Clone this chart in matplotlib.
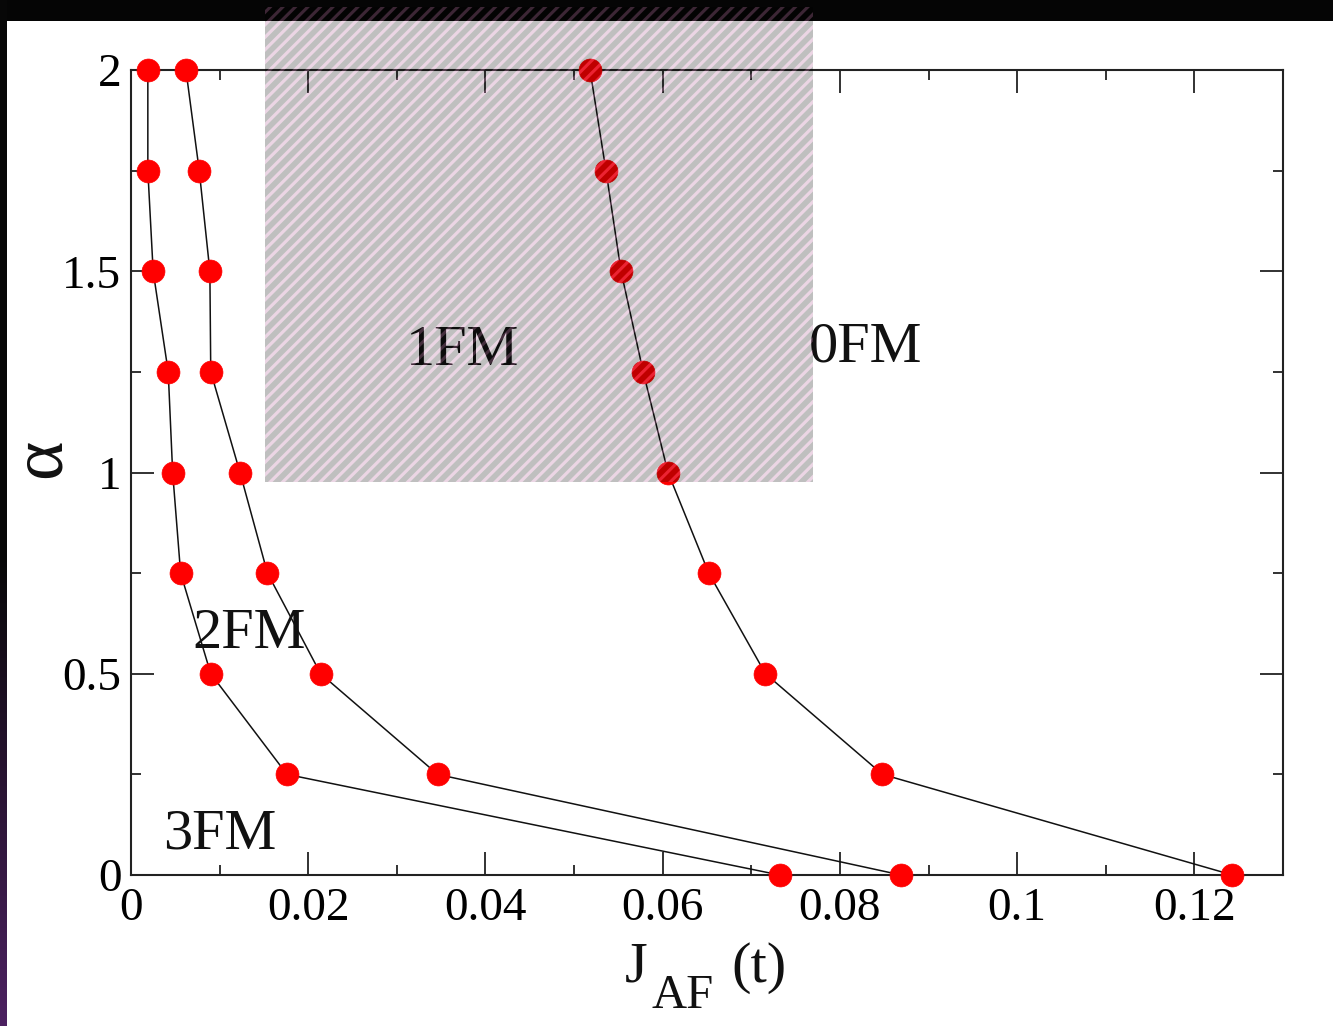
import numpy as np
import matplotlib
matplotlib.use("Agg")
import matplotlib.pyplot as plt
from matplotlib.patches import Rectangle, Polygon
from matplotlib.collections import PatchCollection

plt.rcParams["font.family"] = ["Liberation Serif", "DejaVu Serif"]

# phase boundaries, alpha vs J_AF
alpha = [2.0, 1.75, 1.5, 1.25, 1.0, 0.75, 0.5, 0.25, 0.0]
j_3fm_2fm = [0.0019, 0.0019, 0.0025, 0.0042, 0.0047, 0.0056, 0.0090, 0.0176, 0.0732]
j_2fm_1fm = [0.0062, 0.0077, 0.0089, 0.0090, 0.0123, 0.0154, 0.0214, 0.0346, 0.0869]
j_1fm_0fm = [0.0518, 0.0536, 0.0553, 0.0578, 0.0606, 0.0652, 0.0716, 0.0848, 0.1243]

phase_labels = ["1FM", "0FM", "2FM", "3FM"]
phase_x = [0.0310, 0.0765, 0.0069, 0.0036]
phase_y = [1.267, 1.275, 0.564, 0.067]

xticks = [0, 0.02, 0.04, 0.06, 0.08, 0.10, 0.12]
xticklabels = ["0", "0.02", "0.04", "0.06", "0.08", "0.1", "0.12"]
yticks = [0, 0.5, 1, 1.5, 2]
yticklabels = ["0", "0.5", "1", "1.5", "2"]

W, H = 1333, 1026
fig = plt.figure(figsize=(W / 100, H / 100), dpi=100, facecolor="white")
ax = fig.add_axes([131 / W, 1 - 875 / H, (1283 - 131) / W, (875 - 70) / H])

for xs in (j_3fm_2fm, j_2fm_1fm, j_1fm_0fm):
    ax.plot(xs, alpha, "-", color="#111111", lw=1.1, marker="o", ms=16.5,
            mfc="#ff0000", mec="#ff0000", mew=0.5, clip_on=False, zorder=3)

for lab, x, y in zip(phase_labels, phase_x, phase_y):
    ax.text(x, y, lab, fontsize=42, ha="left", va="baseline", color="#111111")

ax.set_xlim(0, 0.13)
ax.set_ylim(0, 2)
ax.set_xticks(xticks)
ax.set_xticklabels(xticklabels)
ax.set_yticks(yticks)
ax.set_yticklabels(yticklabels)
ax.set_xticks(np.arange(0.01, 0.13, 0.02), minor=True)
ax.set_yticks([0.25, 0.75, 1.25, 1.75], minor=True)
ax.tick_params(which="both", direction="in", top=True, right=True,
               width=1.3, color="#222222", labelsize=34)
ax.tick_params(which="major", length=16.5)
ax.tick_params(which="minor", length=7.5)
ax.tick_params(axis="x", pad=9)
ax.tick_params(axis="y", pad=7)
for s in ax.spines.values():
    s.set_linewidth(1.5)
    s.set_color("#222222")

# overlay in image pixel coordinates
ov = fig.add_axes([0, 0, 1, 1], zorder=5)
ov.set_facecolor("none")
ov.set_axis_off()

# dark frame bits
ov.add_patch(Rectangle((0, 0), W, 21, color="#050505", lw=0, zorder=1))
grad = np.zeros((H, 1, 3))
t = np.clip((np.arange(H) - 560) / (H - 560), 0, 1)[:, None]
grad[:, 0, :] = (1 - t) * np.array([0.03, 0.03, 0.03]) + t * np.array([0.30, 0.13, 0.38])
ov.imshow(grad, extent=(0, 6.5, H, 0), aspect="auto", zorder=1, interpolation="bilinear")

# hatched box
bx0, bx1, by0, by1 = 265, 813, 7, 482
clip = Rectangle((bx0, by0), bx1 - bx0, by1 - by0, fc="none", ec="none")
ov.add_patch(clip)
P, wp = 12.5, 4.5
pink, gray = [], []
for k in range(int((bx0 + by0) / P) - 2, int((bx1 + by1) / P) + 3):
    a = k * P
    pink.append(Polygon([(a, 0), (a + wp, 0), (a + wp - H, H), (a - H, H)]))
    gray.append(Polygon([(a + wp, 0), (a + P, 0), (a + P - H, H), (a + wp - H, H)]))
pc_p = PatchCollection(pink, facecolor=(0.74, 0.46, 0.65, 0.30), edgecolor="none", zorder=2)
pc_g = PatchCollection(gray, facecolor=(0, 0, 0, 0.25), edgecolor="none", zorder=2)
for pc in (pc_p, pc_g):
    ov.add_collection(pc)
    pc.set_clip_path(clip)

# axis labels
ov.text(42, 458, "α", fontsize=54, rotation=90, ha="center", va="center", color="#111111")
ov.text(625, 982, "J", fontsize=42, ha="left", va="baseline", color="#111111")
ov.text(652, 1008, "AF", fontsize=35, ha="left", va="baseline", color="#111111")
ov.text(731, 982, "(t)", fontsize=42, ha="left", va="baseline", color="#111111")

ov.set_xlim(0, W)
ov.set_ylim(H, 0)

fig.savefig("out.png", dpi=100, facecolor="white")
